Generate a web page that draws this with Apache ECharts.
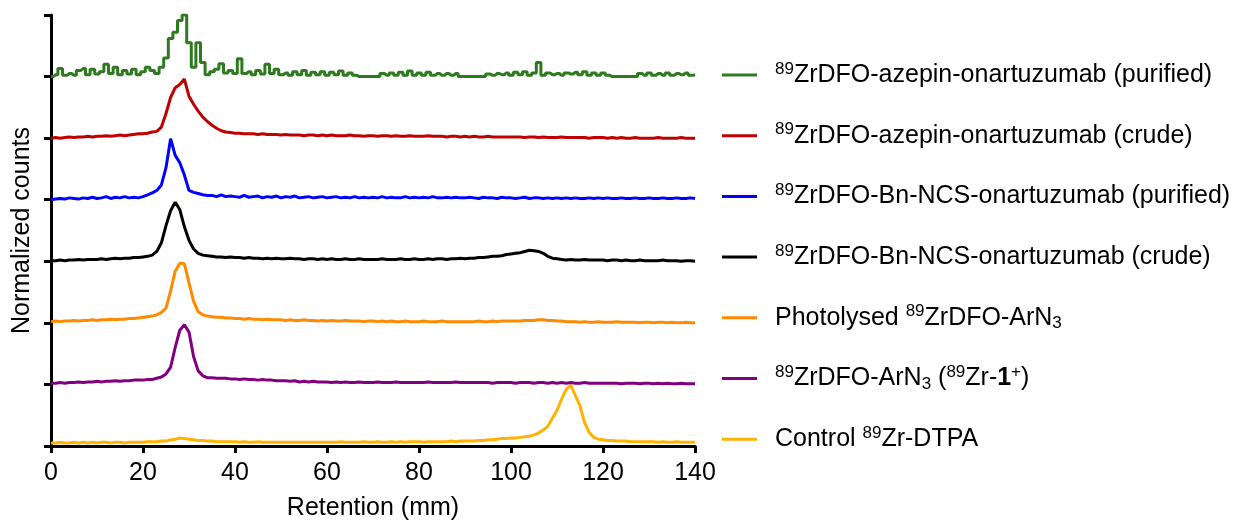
<!DOCTYPE html>
<html>
<head>
<meta charset="utf-8">
<script src="https://cdn.jsdelivr.net/npm/echarts@6/dist/echarts.min.js"></script>
<style>
html,body{margin:0;padding:0;background:#fff;}
#chart{width:1239px;height:521px;}
</style>
</head>
<body>
<div id="chart"></div>
<script>
// Retention positions (mm), one sample per mm from 0 to 140
const retention = Array.from({length: 141}, (_, i) => i);

const xTicks = [0, 20, 40, 60, 80, 100, 120, 140];

const seriesNames = [
  '89ZrDFO-azepin-onartuzumab (purified)',
  '89ZrDFO-azepin-onartuzumab (crude)',
  '89ZrDFO-Bn-NCS-onartuzumab (purified)',
  '89ZrDFO-Bn-NCS-onartuzumab (crude)',
  'Photolysed 89ZrDFO-ArN3',
  '89ZrDFO-ArN3 (89Zr-1+)',
  'Control 89Zr-DTPA'
];
const legendRich = [
  '{sup|89}ZrDFO-azepin-onartuzumab (purified)',
  '{sup|89}ZrDFO-azepin-onartuzumab (crude)',
  '{sup|89}ZrDFO-Bn-NCS-onartuzumab (purified)',
  '{sup|89}ZrDFO-Bn-NCS-onartuzumab (crude)',
  'Photolysed {sup|89}ZrDFO-ArN{sub|3}',
  '{sup|89}ZrDFO-ArN{sub|3} ({sup|89}Zr-{b|1}{sup|+})',
  'Control {sup|89}Zr-DTPA'
];
const colors = ['#2E7A1E', '#C00000', '#0000FF', '#000000', '#FF8A00', '#800080', '#FFB300'];

// Normalized counts (each trace scaled 0..1), index = retention in mm
const azepinPurified = [
  0.00,0.03,0.13,0.02,0.05,0.02,0.10,0.13,0.03,0.12,
  0.04,0.08,0.20,0.05,0.15,0.03,0.10,0.04,0.12,0.03,
  0.08,0.15,0.10,0.05,0.15,0.30,0.62,0.72,0.91,1.00,
  0.55,0.15,0.55,0.23,0.03,0.08,0.12,0.21,0.06,0.10,
  0.05,0.29,0.05,0.08,0.03,0.10,0.04,0.20,0.05,0.12,
  0.03,0.06,0.02,0.08,0.03,0.10,0.02,0.07,0.03,0.08,
  0.02,0.07,0.03,0.09,0.02,0.06,0.02,0.00,0.00,0.00,
  0.00,0.00,0.05,0.02,0.06,0.02,0.07,0.02,0.09,0.02,
  0.06,0.02,0.07,0.02,0.05,0.02,0.05,0.02,0.05,0.00,
  0.00,0.00,0.00,0.00,0.00,0.04,0.02,0.05,0.03,0.06,
  0.02,0.07,0.03,0.08,0.02,0.06,0.23,0.02,0.06,0.03,
  0.05,0.02,0.06,0.04,0.07,0.03,0.08,0.02,0.06,0.02,
  0.06,0.02,0.00,0.00,0.00,0.00,0.00,0.00,0.05,0.02,
  0.06,0.02,0.05,0.02,0.06,0.02,0.05,0.03,0.06,0.02,0.03
];
const azepinCrude = [
  0.00,0.01,0.00,0.01,0.02,0.01,0.02,0.02,0.03,0.02,
  0.03,0.03,0.04,0.03,0.04,0.05,0.04,0.05,0.06,0.07,
  0.07,0.08,0.10,0.11,0.18,0.40,0.66,0.82,0.87,0.96,
  0.68,0.55,0.44,0.34,0.27,0.21,0.16,0.12,0.10,0.09,
  0.08,0.08,0.07,0.07,0.07,0.06,0.07,0.06,0.06,0.06,
  0.05,0.06,0.05,0.05,0.05,0.04,0.05,0.05,0.04,0.05,
  0.04,0.05,0.04,0.04,0.04,0.05,0.04,0.04,0.03,0.04,
  0.04,0.03,0.04,0.04,0.03,0.04,0.03,0.03,0.04,0.03,
  0.03,0.03,0.04,0.03,0.03,0.03,0.02,0.03,0.03,0.02,
  0.03,0.02,0.03,0.02,0.02,0.03,0.02,0.02,0.02,0.02,
  0.02,0.02,0.02,0.01,0.02,0.02,0.01,0.02,0.01,0.01,
  0.01,0.02,0.01,0.01,0.01,0.01,0.01,0.00,0.01,0.01,
  0.01,0.00,0.01,0.00,0.01,0.00,0.00,0.01,0.00,0.00,
  0.00,0.00,0.01,0.00,0.00,0.00,0.00,0.01,0.00,0.00,0.00
];
const bnPurified = [
  0.00,0.01,0.02,0.01,0.03,0.02,0.01,0.03,0.02,0.04,
  0.02,0.03,0.05,0.02,0.04,0.03,0.05,0.03,0.04,0.03,
  0.05,0.08,0.11,0.15,0.24,0.52,0.99,0.72,0.60,0.40,
  0.15,0.12,0.10,0.08,0.07,0.07,0.05,0.08,0.05,0.06,
  0.05,0.04,0.07,0.04,0.05,0.06,0.03,0.05,0.04,0.06,
  0.03,0.05,0.04,0.06,0.03,0.04,0.05,0.03,0.04,0.05,
  0.03,0.04,0.05,0.03,0.04,0.03,0.05,0.03,0.04,0.03,
  0.04,0.03,0.05,0.03,0.04,0.03,0.03,0.05,0.03,0.04,
  0.03,0.04,0.03,0.05,0.03,0.03,0.04,0.03,0.04,0.03,
  0.03,0.04,0.03,0.02,0.04,0.03,0.03,0.02,0.04,0.03,
  0.03,0.02,0.03,0.04,0.02,0.03,0.03,0.02,0.03,0.02,
  0.03,0.02,0.03,0.02,0.03,0.02,0.02,0.03,0.02,0.03,
  0.02,0.03,0.02,0.02,0.03,0.02,0.02,0.03,0.02,0.02,
  0.03,0.02,0.02,0.03,0.02,0.02,0.03,0.02,0.02,0.03,0.02
];
const bnCrude = [
  0.01,0.01,0.02,0.01,0.02,0.02,0.03,0.02,0.03,0.03,
  0.03,0.04,0.03,0.04,0.05,0.04,0.05,0.05,0.06,0.06,
  0.07,0.08,0.10,0.16,0.30,0.58,0.82,0.96,0.84,0.56,
  0.34,0.20,0.13,0.10,0.09,0.08,0.07,0.07,0.06,0.07,
  0.06,0.06,0.05,0.06,0.05,0.05,0.04,0.05,0.04,0.05,
  0.04,0.04,0.05,0.04,0.04,0.03,0.04,0.04,0.03,0.04,
  0.03,0.04,0.03,0.03,0.04,0.03,0.03,0.04,0.03,0.03,
  0.03,0.03,0.04,0.03,0.03,0.03,0.04,0.03,0.03,0.04,
  0.03,0.03,0.04,0.03,0.04,0.04,0.03,0.04,0.04,0.05,
  0.04,0.05,0.05,0.06,0.06,0.07,0.08,0.08,0.09,0.11,
  0.12,0.13,0.14,0.16,0.18,0.17,0.16,0.13,0.08,0.05,
  0.04,0.03,0.02,0.03,0.02,0.02,0.03,0.02,0.02,0.02,
  0.02,0.01,0.02,0.02,0.01,0.02,0.01,0.01,0.02,0.01,
  0.01,0.01,0.01,0.02,0.01,0.01,0.01,0.00,0.01,0.01,0.00
];
const photolysed = [
  0.02,0.03,0.02,0.03,0.03,0.04,0.03,0.04,0.04,0.05,
  0.04,0.05,0.05,0.06,0.05,0.06,0.06,0.07,0.07,0.08,
  0.09,0.10,0.11,0.13,0.17,0.24,0.52,0.84,0.97,0.96,
  0.65,0.35,0.18,0.13,0.11,0.10,0.09,0.09,0.08,0.08,
  0.07,0.07,0.06,0.07,0.06,0.06,0.05,0.06,0.05,0.05,
  0.05,0.04,0.05,0.04,0.04,0.05,0.04,0.04,0.03,0.04,
  0.03,0.04,0.03,0.03,0.04,0.03,0.03,0.03,0.02,0.03,
  0.03,0.02,0.03,0.02,0.03,0.02,0.02,0.03,0.02,0.02,
  0.02,0.03,0.02,0.02,0.02,0.03,0.02,0.02,0.02,0.02,
  0.02,0.02,0.02,0.03,0.02,0.02,0.03,0.02,0.03,0.03,
  0.03,0.03,0.03,0.04,0.04,0.04,0.05,0.05,0.04,0.04,
  0.03,0.03,0.02,0.02,0.02,0.01,0.02,0.01,0.01,0.02,
  0.01,0.01,0.01,0.02,0.01,0.01,0.01,0.01,0.00,0.01,
  0.01,0.00,0.01,0.01,0.00,0.01,0.00,0.00,0.01,0.00,0.00
];
const arN3 = [
  0.02,0.02,0.03,0.02,0.03,0.03,0.04,0.03,0.04,0.04,
  0.05,0.04,0.05,0.05,0.06,0.05,0.06,0.06,0.07,0.07,
  0.07,0.08,0.08,0.10,0.12,0.17,0.28,0.60,0.88,0.97,
  0.85,0.45,0.22,0.14,0.11,0.11,0.10,0.10,0.10,0.09,
  0.09,0.08,0.09,0.08,0.08,0.07,0.08,0.07,0.07,0.06,
  0.06,0.06,0.05,0.06,0.04,0.05,0.04,0.05,0.04,0.04,
  0.04,0.03,0.04,0.03,0.04,0.03,0.03,0.04,0.03,0.03,
  0.03,0.04,0.03,0.03,0.03,0.04,0.03,0.03,0.03,0.03,
  0.03,0.03,0.04,0.03,0.03,0.03,0.03,0.03,0.04,0.03,
  0.03,0.03,0.03,0.03,0.03,0.03,0.02,0.03,0.03,0.03,
  0.03,0.02,0.03,0.03,0.03,0.02,0.03,0.03,0.02,0.03,
  0.02,0.03,0.02,0.03,0.02,0.02,0.03,0.02,0.02,0.02,
  0.02,0.02,0.02,0.02,0.01,0.02,0.02,0.02,0.01,0.02,
  0.02,0.01,0.02,0.01,0.02,0.01,0.01,0.02,0.01,0.01,0.01
];
const controlDTPA = [
  0.05,0.05,0.06,0.05,0.05,0.06,0.05,0.06,0.05,0.06,
  0.05,0.06,0.06,0.05,0.06,0.06,0.05,0.06,0.06,0.06,
  0.06,0.07,0.07,0.07,0.08,0.08,0.10,0.11,0.13,0.12,
  0.11,0.10,0.09,0.09,0.08,0.08,0.07,0.07,0.07,0.07,
  0.07,0.06,0.07,0.06,0.06,0.07,0.06,0.06,0.06,0.06,
  0.06,0.06,0.06,0.06,0.06,0.06,0.06,0.06,0.06,0.06,
  0.06,0.06,0.06,0.07,0.06,0.06,0.06,0.06,0.07,0.06,
  0.06,0.07,0.06,0.06,0.07,0.06,0.07,0.06,0.07,0.07,
  0.07,0.06,0.07,0.07,0.07,0.07,0.07,0.08,0.07,0.08,
  0.08,0.08,0.08,0.09,0.09,0.10,0.10,0.11,0.12,0.12,
  0.13,0.13,0.14,0.15,0.16,0.18,0.21,0.26,0.32,0.45,
  0.58,0.76,0.92,0.99,0.82,0.65,0.38,0.22,0.14,0.11,
  0.10,0.09,0.09,0.08,0.08,0.08,0.07,0.07,0.07,0.07,
  0.07,0.07,0.06,0.07,0.06,0.06,0.07,0.06,0.06,0.06,0.06
];

const traces = [azepinPurified, azepinCrude, bnPurified, bnCrude, photolysed, arN3, controlDTPA];
// vertical stacking offsets (one axis unit per trace)
const offsets = [6, 5, 4, 3, 2, 1, 0];

const FONT = 'Liberation Sans, Arial, sans-serif';

const series = traces.map((vals, k) => ({
  name: seriesNames[k],
  type: 'line',
  step: k === 0 ? 'middle' : false,
  symbol: 'none',
  showSymbol: false,
  color: colors[k],
  lineStyle: {width: 3, color: colors[k]},
  z: 10 - k,
  data: retention.map((x, i) => [x, vals[i] + offsets[k]])
}));

const chart = echarts.init(document.getElementById('chart'), null, {renderer: 'canvas'});
chart.setOption({
  animation: false,
  backgroundColor: '#ffffff',
  grid: {left: 51, right: 544, top: 15, bottom: 75, containLabel: false, outerBoundsMode: 'none'},
  xAxis: {
    type: 'value', min: 0, max: 140, interval: 20,
    name: 'Retention (mm)', nameLocation: 'middle', nameGap: 50,
    nameTextStyle: {fontSize: 25, color: '#000', fontFamily: FONT},
    axisLine: {show: true, onZero: false, lineStyle: {color: '#000', width: 3}},
    axisTick: {show: true, inside: false, length: 7, lineStyle: {color: '#000', width: 3}},
    axisLabel: {fontSize: 25, color: '#000', fontFamily: FONT, margin: 15,
      formatter: v => xTicks.includes(v) ? String(v) : ''},
    splitLine: {show: false}
  },
  yAxis: {
    type: 'value', min: 0, max: 7, interval: 1,
    name: 'Normalized counts', nameLocation: 'middle', nameGap: 16, nameRotate: 90,
    nameTextStyle: {fontSize: 25, color: '#000', fontFamily: FONT},
    axisLine: {show: true, onZero: false, lineStyle: {color: '#000', width: 3}},
    axisTick: {show: true, inside: false, length: 7, lineStyle: {color: '#000', width: 3}},
    axisLabel: {show: false},
    splitLine: {show: false}
  },
  legend: {
    orient: 'vertical',
    left: 722, top: 60.5, padding: 0,
    itemWidth: 35, itemHeight: 3, itemGap: 31.7,
    icon: 'rect',
    data: seriesNames,
    formatter: name => legendRich[seriesNames.indexOf(name)],
    textStyle: {
      fontSize: 25, color: '#000', fontFamily: FONT, lineHeight: 29,
      padding: [0, 0, 0, 13],
      rich: {
        sup: {fontSize: 17, color: '#000', fontFamily: FONT, lineHeight: 15, verticalAlign: 'top'},
        sub: {fontSize: 17, color: '#000', fontFamily: FONT, lineHeight: 12, verticalAlign: 'bottom'},
        b: {fontSize: 25, color: '#000', fontFamily: FONT, fontWeight: 'bold', lineHeight: 29}
      }
    }
  },
  series: series
});
</script>
</body>
</html>
